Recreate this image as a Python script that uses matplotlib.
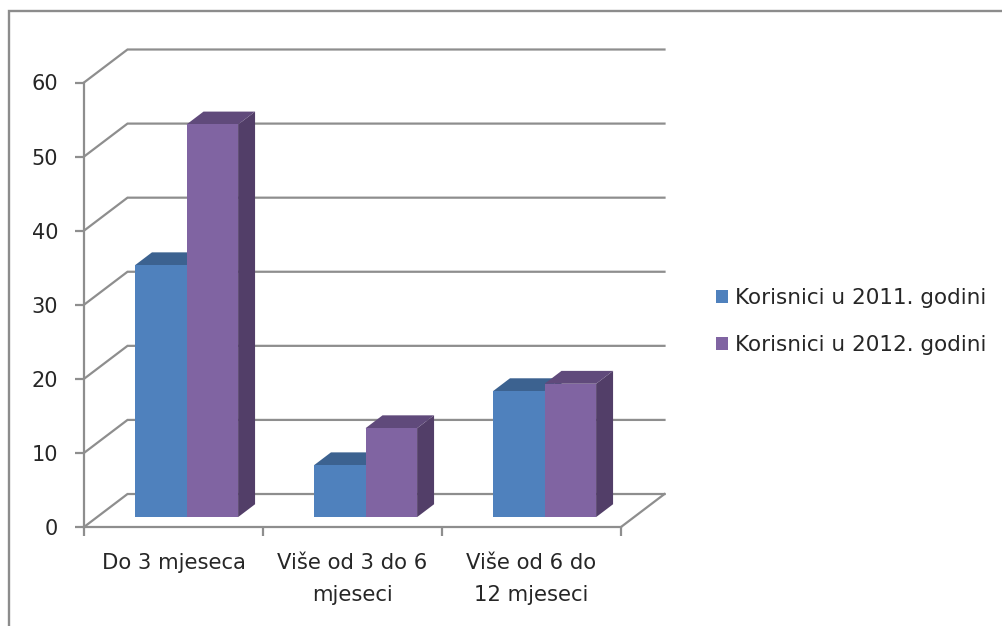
import matplotlib
matplotlib.use('Agg')
import matplotlib.pyplot as plt
from matplotlib.lines import Line2D
from matplotlib.patches import Patch, Polygon

categories = ['Do 3 mjeseca', 'Više od 3 do 6\nmjeseci', 'Više od 6 do\n12 mjeseci']
series_names = ['Korisnici u 2011. godini', 'Korisnici u 2012. godini']
values_2011 = [34, 7, 17]
values_2012 = [53, 12, 18]
y_ticks = [0, 10, 20, 30, 40, 50, 60]

W, H = 1002, 626
GRID = '#8e8e8e'
TEXT = '#262626'

fig = plt.figure(figsize=(W / 100, H / 100), dpi=100, facecolor='white')
# front plane of the fake 3d box, pixels from the picture
left, right, top, bottom = 84, 621, 82.5, 527
ax = fig.add_axes([left / W, 1 - bottom / H, (right - left) / W, (bottom - top) / H])
ax.set_xlim(0, 3)
ax.set_ylim(0, 60)
ax.patch.set_visible(False)

# how far the back wall is shifted, in data units
DEPTH_X = 43.5 / 179
DEPTH_Y = 33 / 7.41


def project(x, y, d):
    return (x + d * DEPTH_X, y + d * DEPTH_Y)


# back wall and side lines
for v in y_ticks:
    ax.plot(*zip(project(0, v, 0), project(0, v, 1), project(3, v, 1)),
            color=GRID, lw=1.6, clip_on=False, zorder=1, solid_joinstyle='miter')
# floor right edge
ax.plot(*zip(project(3, 0, 0), project(3, 0, 1)), color=GRID, lw=1.6, clip_on=False, zorder=1)


def bar3d(x, w, h, front, top_c, side):
    d0, d1 = 0.3, 0.69
    ax.add_patch(Polygon([project(x + w, 0, d0), project(x + w, 0, d1),
                          project(x + w, h, d1), project(x + w, h, d0)],
                         fc=side, ec='none', clip_on=False, zorder=3))
    ax.add_patch(Polygon([project(x, h, d0), project(x, h, d1),
                          project(x + w, h, d1), project(x + w, h, d0)],
                         fc=top_c, ec='none', clip_on=False, zorder=3))
    ax.add_patch(Polygon([project(x, 0, d0), project(x + w, 0, d0),
                          project(x + w, h, d0), project(x, h, d0)],
                         fc=front, ec='none', clip_on=False, zorder=3))


BAR_W = 0.288
for i in range(len(categories)):
    bar3d(i + 0.212, BAR_W, values_2011[i], '#4f81bd', '#3c6290', '#39587f')
    bar3d(i + 0.212 + BAR_W, BAR_W, values_2012[i], '#8064a2', '#604a7b', '#523e68')

# axes
for s in ['top', 'right']:
    ax.spines[s].set_visible(False)
for s in ['left', 'bottom']:
    ax.spines[s].set_color(GRID)
    ax.spines[s].set_linewidth(1.6)
    ax.spines[s].set_zorder(2)

ax.set_yticks(y_ticks)
ax.tick_params(axis='y', length=6.5, width=1.6, color=GRID, pad=12, labelsize=15, labelcolor=TEXT)
ax.set_xticks([0, 1, 2, 3])
ax.set_xticklabels([])
ax.set_xticks([0.5, 1.5, 2.5], minor=True)
ax.set_xticklabels(categories, minor=True, fontsize=15.2, color=TEXT, linespacing=1.78)
ax.tick_params(axis='x', which='major', length=6.5, width=1.6, color=GRID)
ax.tick_params(axis='x', which='minor', length=0, pad=18.7)

handles = [Patch(fc='#4f81bd', label=series_names[0]), Patch(fc='#8064a2', label=series_names[1])]
fig.legend(handles=handles, loc='upper left', bbox_to_anchor=(716 / W, 1 - 288 / H), frameon=False,
           fontsize=15.5, labelcolor=TEXT, handlelength=0.56, handleheight=0.56, handletextpad=0.33,
           labelspacing=1.27, borderpad=0, borderaxespad=0)

# chart border, runs off the right and bottom of the image
fig.add_artist(Line2D([9 / W, 9 / W, 1], [0, 1 - 11 / H, 1 - 11 / H], color='#8c8c8c', lw=1.7,
                      solid_joinstyle='miter'))

fig.savefig('out.png', dpi=100)
